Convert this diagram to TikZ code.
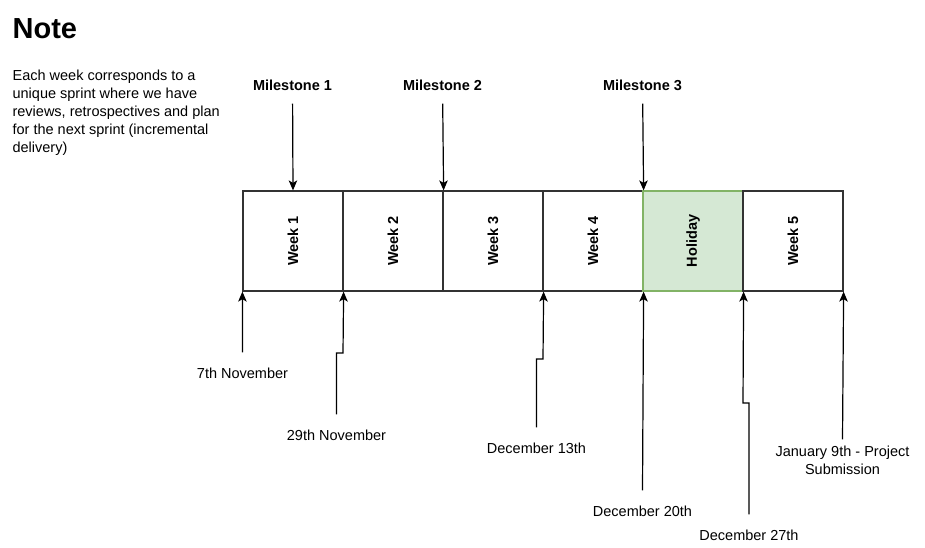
\documentclass[tikz,border=0pt]{standalone}
\usepackage{fontspec}
\setmainfont{Liberation Sans}
\usetikzlibrary{arrows.meta}
\definecolor{holfill}{HTML}{D5E8D4}
\definecolor{holdraw}{HTML}{82B366}

\begin{document}
\begin{tikzpicture}[x=1pt, y=-1pt, ->, >={Stealth[length=10pt, width=8.5pt, inset=2.5pt]}, line width=1.2pt,
        font=\fontsize{14.5}{18}\selectfont,
        week/.style={draw=black!80, -, minimum width=100pt, minimum height=100pt, inner sep=0, font=\fontsize{14.5}{18}\selectfont\bfseries},
        ms/.style={inner sep=0, minimum height=36pt, font=\fontsize{14.5}{18}\selectfont\bfseries},
        date/.style={inner sep=0, minimum height=40pt, align=center}]

        \useasboundingbox (0,0) rectangle (925,547);

        % note
        \node[anchor=base west, inner sep=0, font=\fontsize{29}{34}\selectfont\bfseries] (title) at (12,38) {Note};
        \node[anchor=north west, inner sep=0, align=left] (note) at (12,69) {Each week corresponds to a\\unique sprint where we have\\reviews, retrospectives and plan\\for the next sprint (incremental\\delivery)};

        % sprints
        \node[week] (w1) at (293,241) {\rotatebox{90}{Week 1}};
        \node[week] (w2) at (393,241) {\rotatebox{90}{Week 2}};
        \node[week] (w3) at (493,241) {\rotatebox{90}{Week 3}};
        \node[week] (w4) at (593,241) {\rotatebox{90}{Week 4}};
        \node[week, fill=holfill, draw=holdraw] (hol) at (693,241) {\rotatebox{90}{Holiday}};
        \node[week] (w5) at (793,241) {\rotatebox{90}{Week 5}};

        % milestones
        \node[ms] (m1) at (292.5,85) {Milestone 1};
        \node[ms] (m2) at (442.5,85) {Milestone 2};
        \node[ms] (m3) at (642.5,85) {Milestone 3};

        % dates
        \node[date] (d7)  at (242.5,373) {7th November};
        \node[date] (d29) at (336.5,435) {29th November};
        \node[date] (d13) at (536.5,448) {December 13th};
        \node[date] (d20) at (642.5,511) {December 20th};
        \node[date] (d27) at (749,535) {December 27th};
        \node[date] (j9)  at (842.5,460) {January 9th - Project\\Submission};

        \coordinate (j29) at (343,353);
        \coordinate (j13) at (543,359);
        \coordinate (j27) at (743,403);

        \path
            (m1) edge (w1.north)
            (m2) edge (w2.north east)
            (m3) edge (w4.north east)
            (d7.north) edge (w1.south west)
            (d20.north) edge (w4.south east)
            (j9.north) edge (w5.south east)
            ;
        \draw (d29.north) |- (j29) -- (w1.south east);
        \draw (d13.north) |- (j13) -- (w3.south east);
        \draw (d27.north) |- (j27) -- (hol.south east);
        \end{tikzpicture}
\end{document}
